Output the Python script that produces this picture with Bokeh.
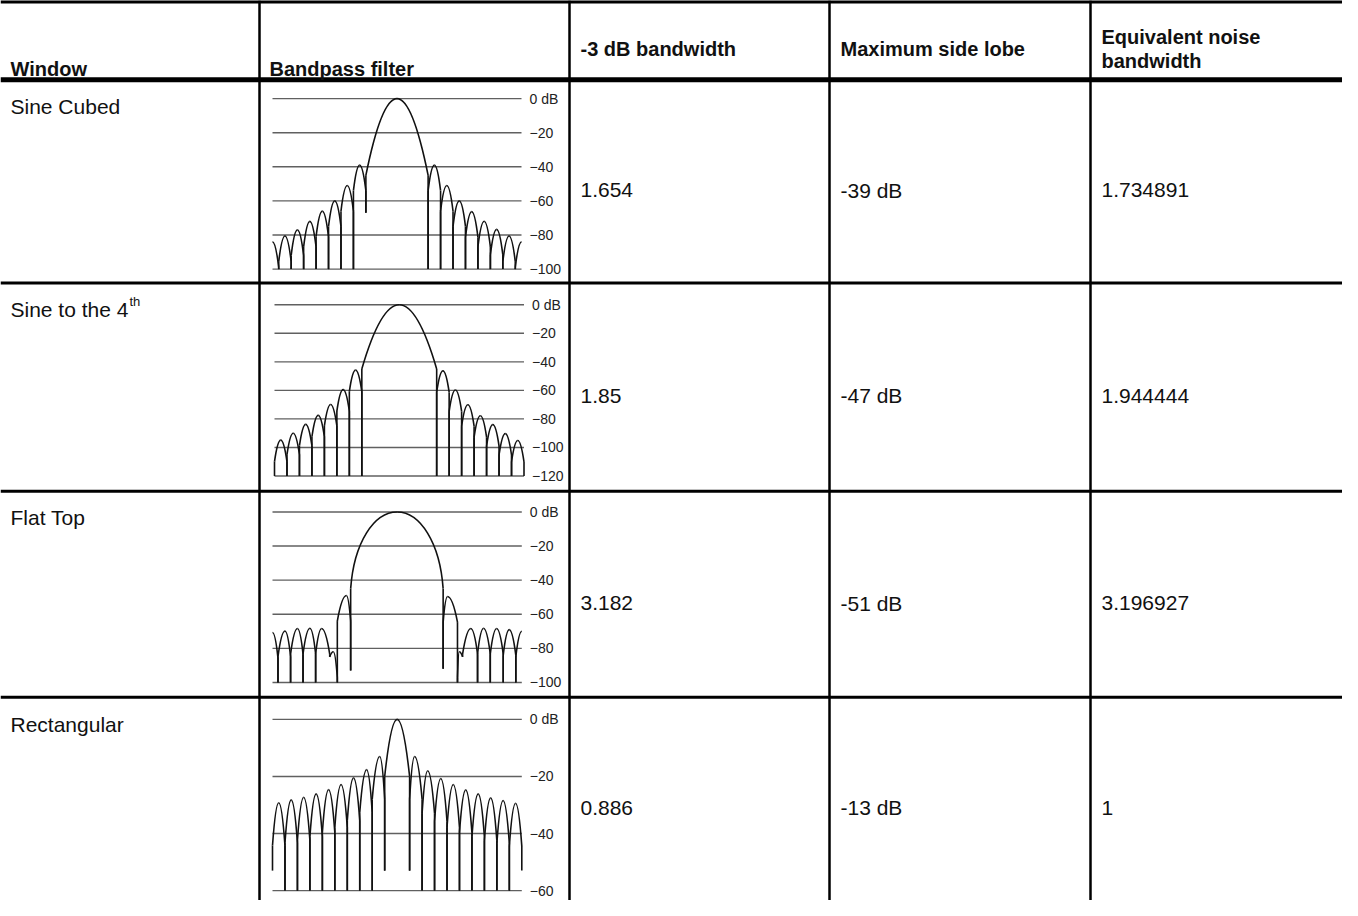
from bokeh.plotting import figure
from bokeh.models import Range1d
from bokeh.core.properties import value
from bokeh.embed import file_html
from bokeh.resources import INLINE

# ---------------- table text ----------------
HEADER_LOW = ["Window", "Bandpass filter"]
HEADER_MID = ["-3 dB bandwidth", "Maximum side lobe"]
HEADER_TWO_LINE = ["Equivalent noise", "bandwidth"]
WINDOW_NAMES = ["Sine Cubed", "Sine to the 4", "Flat Top", "Rectangular"]
WINDOW_SUPERSCRIPT = ["", "th", "", ""]
BANDWIDTH_3DB = ["1.654", "1.85", "3.182", "0.886"]
MAX_SIDE_LOBE = ["-39 dB", "-47 dB", "-51 dB", "-13 dB"]
NOISE_BANDWIDTH = ["1.734891", "1.944444", "3.196927", "1"]

# ---------------- spectra (frequency bins, dB) ----------------
# nulls between lobes (position, depth) and lobe peaks (position, level)
SINE3_NULL_BIN = [-10, -9.5, -8.5, -7.5, -6.5, -5.5, -4.5, -3.5, -2.5,
                  2.5, 3.5, 4.5, 5.5, 6.5, 7.5, 8.5, 9.5, 10]
SINE3_NULL_DB = [-84, -100, -100, -100, -100, -100, -100, -100, -67,
                 -100, -100, -100, -100, -100, -100, -100, -100, -84]
SINE3_PEAK_BIN = [-10, -9, -8, -7, -6, -5, -4, -3, 0, 3, 4, 5, 6, 7, 8, 9, 10]
SINE3_PEAK_DB = [-84, -80.6, -77, -72, -66, -60, -51, -39, 0,
                 -39, -51, -60, -66.3, -71.9, -76.7, -80.6, -84]
SINE3_TICKS = [0, -20, -40, -60, -80, -100]

SINE4_NULL_BIN = [-10, -9, -8, -7, -6, -5, -4, -3, 3, 4, 5, 6, 7, 8, 9, 10]
SINE4_NULL_DB = [-120] * 16
SINE4_PEAK_BIN = [-9.5, -8.5, -7.5, -6.5, -5.5, -4.5, -3.5, 0,
                  3.5, 4.5, 5.5, 6.5, 7.5, 8.5, 9.5]
SINE4_PEAK_DB = [-94.9, -90, -83.8, -77.5, -69.9, -59.5, -45.8, 0,
                 -46.3, -59.7, -70.1, -77.8, -84, -90.3, -95.1]
SINE4_TICKS = [0, -20, -40, -60, -80, -100, -120]

FLAT_NULL_BIN = [-10, -9.56, -8.55, -7.55, -6.54, -5.41, -4.8, -3.73,
                 3.69, 4.84, 5.25, 6.45, 7.47, 8.51, 9.52, 10]
FLAT_NULL_DB = [-70.7, -100, -100, -100, -100, -85, -100, -93,
                -92, -100, -85, -100, -100, -100, -100, -70]
FLAT_PEAK_BIN = [-10, -9.0, -8.0, -7.0, -6.06, -5.12, -4.07, 0,
                 4.04, 4.98, 5.91, 6.93, 7.98, 8.99, 10]
FLAT_PEAK_DB = [-70.7, -69.8, -68.4, -68.2, -68.4, -82, -49, 0,
                -49.6, -82, -68.4, -68.2, -68.4, -69, -70]
FLAT_TICKS = [0, -20, -40, -60, -80, -100]

RECT_NULL_BIN = [-10, -9, -8, -7, -6, -5, -4, -3, -2, -1,
                 1, 2, 3, 4, 5, 6, 7, 8, 9, 10]
RECT_NULL_DB = [-53, -60, -60, -60, -60, -60, -60, -60, -60, -53,
                -53, -60, -60, -60, -60, -60, -60, -60, -60, -53]
RECT_PEAK_BIN = [-9.5, -8.5, -7.5, -6.5, -5.5, -4.5, -3.5, -2.45, -1.4, 0,
                 1.4, 2.45, 3.5, 4.5, 5.5, 6.5, 7.5, 8.5, 9.5]
RECT_PEAK_DB = [-29.2, -28.2, -27.3, -26.1, -24.6, -22.8, -20.5, -17.6, -13, 0,
                -13, -18, -20.7, -22.8, -24.7, -26.1, -27.5, -28.4, -29.4]
RECT_TICKS = [0, -20, -40, -60]

SPECTRA = [
    (SINE3_NULL_BIN, SINE3_NULL_DB, SINE3_PEAK_BIN, SINE3_PEAK_DB, SINE3_TICKS),
    (SINE4_NULL_BIN, SINE4_NULL_DB, SINE4_PEAK_BIN, SINE4_PEAK_DB, SINE4_TICKS),
    (FLAT_NULL_BIN, FLAT_NULL_DB, FLAT_PEAK_BIN, FLAT_PEAK_DB, FLAT_TICKS),
    (RECT_NULL_BIN, RECT_NULL_DB, RECT_PEAK_BIN, RECT_PEAK_DB, RECT_TICKS),
]

# ---------------- layout / style ----------------
FONT = "Liberation Sans"
BODY_SIZE = "21px"
HEAD_SIZE = "20px"
X_LEFT, X_RIGHT = 8, 1350
Y_TOP, Y_BOTTOM = 8, 916
COL_LINES = [267, 577, 837, 1098]
TEXT_X = [18, 277, 588, 848, 1109]
ROW_TOPS = [88, 293, 503, 711]
ROW_BOTTOMS = [293, 503, 711, 916]
# plot boxes: x left, x right, y of 0 dB, y of floor
PLOT_BOX = [(280, 529, 107, 279), (282, 531.5, 315, 487.7),
            (280, 529.3, 524, 696), (280, 529.3, 733.3, 906)]
MAIN_DROP = [45, 45, 45, 20]
SIDE_DROP = 15
PARABOLA = (1 / 3, 2 / 3, 2 / 3)
MAIN_SHAPE = [PARABOLA, PARABOLA, (0.07, 0.6, 0.5), PARABOLA]

p = figure(width=X_RIGHT - X_LEFT, height=900,
           x_range=Range1d(X_LEFT, X_RIGHT), y_range=Range1d(Y_BOTTOM, Y_TOP),
           output_backend="svg", toolbar_location=None, min_border=0,
           x_axis_location=None, y_axis_location=None,
           outline_line_color=None, background_fill_color="white",
           border_fill_color="white")
p.grid.visible = False

# table rules
p.segment(x0=[X_LEFT], x1=[X_RIGHT], y0=[8.5], y1=[8.5], line_color="black", line_width=5)
p.segment(x0=[X_LEFT], x1=[X_RIGHT], y0=[ROW_TOPS[0]], y1=[ROW_TOPS[0]],
          line_color="black", line_width=5)
p.segment(x0=[X_LEFT] * 3, x1=[X_RIGHT] * 3, y0=ROW_TOPS[1:], y1=ROW_TOPS[1:],
          line_color="black", line_width=3)
p.segment(x0=COL_LINES, x1=COL_LINES, y0=[Y_TOP] * 4, y1=[Y_BOTTOM] * 4,
          line_color="black", line_width=2.5)

# header text
head = dict(text_font=value(FONT), text_font_size=value(HEAD_SIZE),
            text_font_style="bold", text_color="#111111", text_baseline="alphabetic")
p.text(x=TEXT_X[:2], y=[77, 77], text=HEADER_LOW, **head)
p.text(x=TEXT_X[2:4], y=[57, 57], text=HEADER_MID, **head)
p.text(x=[TEXT_X[4]] * 2, y=[45, 69], text=HEADER_TWO_LINE, **head)

# body text
body = dict(text_font=value(FONT), text_font_size=value(BODY_SIZE),
            text_color="#111111", text_baseline="alphabetic")
p.text(x=[TEXT_X[0]] * 4, y=[t + 27 for t in ROW_TOPS], text=WINDOW_NAMES, **body)
sup_rows = [i for i, s in enumerate(WINDOW_SUPERSCRIPT) if s]
p.text(x=[TEXT_X[0] + 119] * len(sup_rows), y=[ROW_TOPS[i] + 19 for i in sup_rows],
       text=[WINDOW_SUPERSCRIPT[i] for i in sup_rows], text_font=value(FONT),
       text_font_size=value("13px"), text_color="#111111", text_baseline="alphabetic")
mid = [(a + b) / 2 + 9 for a, b in zip(ROW_TOPS, ROW_BOTTOMS)]
p.text(x=[TEXT_X[2]] * 4, y=mid, text=BANDWIDTH_3DB, **body)
p.text(x=[TEXT_X[3]] * 4, y=mid, text=MAX_SIDE_LOBE, **body)
p.text(x=[TEXT_X[4]] * 4, y=mid, text=NOISE_BANDWIDTH, **body)


def lobe_paths(nb, nd, pb, pd, main_drop, main_shape):
    bz = dict(x0=[], y0=[], x1=[], y1=[], cx0=[], cy0=[], cx1=[], cy1=[])
    dr = dict(x0=[], y0=[], x1=[], y1=[])

    def add(p0, c0, c1, p3):
        for k, v in zip(("x0", "y0", "cx0", "cy0", "cx1", "cy1", "x1", "y1"),
                        (*p0, *c0, *c1, *p3)):
            bz[k].append(v)

    def drop(x, lo, hi):
        if hi > lo:
            dr["x0"].append(x); dr["x1"].append(x)
            dr["y0"].append(lo); dr["y1"].append(hi)

    for i, (xp, pk) in enumerate(zip(pb, pd)):
        xl, dl, xr, dd = nb[i], nd[i], nb[i + 1], nd[i + 1]
        if pk >= 0:
            depth, (a, b, g) = main_drop, main_shape
        else:
            depth, (a, b, g) = SIDE_DROP, PARABOLA
        yl = max(dl, pk - depth)
        yr = max(dd, pk - depth)
        if xp > xl:
            w = xp - xl
            add((xl, yl), (xl + a * w, yl + b * (pk - yl)), (xl + g * w, pk), (xp, pk))
            drop(xl, dl, yl)
        if xr > xp:
            w = xr - xp
            add((xp, pk), (xr - g * w, pk), (xr - a * w, yr + b * (pk - yr)), (xr, yr))
            drop(xr, dd, yr)
    return bz, dr


for k, (nb, nd, pb, pd, ticks) in enumerate(SPECTRA):
    bx0, bx1, y0db, yfloor = PLOT_BOX[k]
    sub = p.subplot(x_source=Range1d(nb[0], nb[-1]), y_source=Range1d(min(ticks), 0),
                    x_target=Range1d(bx0, bx1), y_target=Range1d(yfloor, y0db))
    sub.segment(x0=[nb[0]] * len(ticks), x1=[nb[-1]] * len(ticks), y0=ticks, y1=ticks,
                line_color="#606060", line_width=1.4)
    labels = ["0 dB" if t == 0 else "\u2212" + str(abs(t)) for t in ticks]
    sub.text(x=[nb[-1]] * len(ticks), y=ticks, text=labels, x_offset=8,
             text_baseline="middle", text_font=value(FONT),
             text_font_size=value("14px"), text_color="#222222")
    bz, dr = lobe_paths(nb, nd, pb, pd, MAIN_DROP[k], MAIN_SHAPE[k])
    sub.bezier(line_color="#111111", line_width=1.6, **bz)
    sub.segment(line_color="#111111", line_width=1.6, **dr)

open("out.html", "w").write(file_html(p, INLINE))
